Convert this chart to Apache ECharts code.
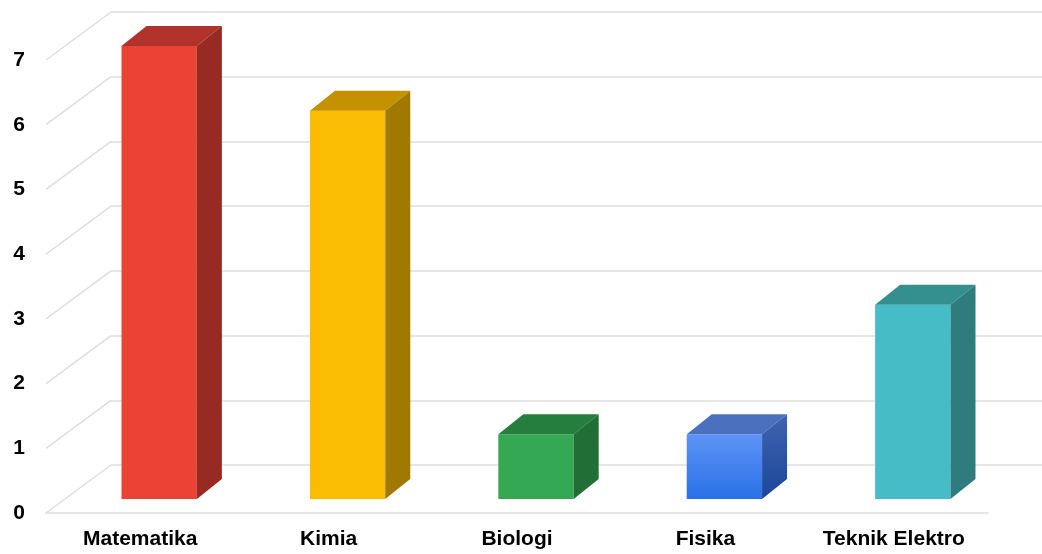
<!DOCTYPE html>
<html>
<head>
<meta charset="utf-8">
<script src="https://cdn.jsdelivr.net/npm/echarts@6/dist/echarts.min.js"></script>
<style>
  html, body { margin: 0; padding: 0; background: #fff; }
  #chart { width: 1042px; height: 554px; }
</style>
</head>
<body>
<div id="chart"></div>
<script>
// data
const categories = ['Matematika', 'Kimia', 'Biologi', 'Fisika', 'Teknik Elektro'];
const counts = [7, 6, 1, 1, 3];
const yTicks = [0, 1, 2, 3, 4, 5, 6, 7];

// face colours per bar: front, top, side
const frontColors = ['#EA4335', '#FBBC04', '#34A853',
    {type: 'linear', x: 0, y: 0, x2: 0, y2: 1, colorStops: [{offset: 0, color: '#5E94F8'}, {offset: 1, color: '#2A70E6'}]},
    '#46BDC6'];
const topColors = ['#B0322A', '#C49200', '#257E3E', '#4A70BE', '#33908F'];
const sideColors = ['#972A23', '#A07A00', '#216E36',
    {type: 'linear', x: 0, y: 0, x2: 0, y2: 1, colorStops: [{offset: 0, color: '#3F63AE'}, {offset: 1, color: '#1C469A'}]},
    '#2E7C7D'];

// oblique projection offsets (px)
const wallDx = 65, wallDy = -48;   // front floor edge -> back wall
const barDx = 19, barDy = -14;     // front floor edge -> bar front face
const depthDx = 25, depthDy = -20; // bar depth

const gridColor = '#dedede';
const font = '"Liberation Sans", Arial, sans-serif';

const chart = echarts.init(document.getElementById('chart'));

function renderBar(params, api) {
    const idx = params.dataIndex;
    const c = api.value(0), v = api.value(1);
    const base = api.coord([c, 0]);
    const top = api.coord([c, v]);
    const w = api.size([1, 0])[0] * 0.4;
    const x0 = base[0] - w / 2 + barDx, x1 = x0 + w;
    const by = base[1] + barDy, ty = top[1] + barDy;
    return {
        type: 'group',
        children: [
            {type: 'rect', shape: {x: x0, y: ty, width: w, height: by - ty},
             style: {fill: frontColors[idx]}},
            {type: 'polygon', shape: {points: [[x0, ty], [x1, ty], [x1 + depthDx, ty + depthDy], [x0 + depthDx, ty + depthDy]]},
             style: {fill: topColors[idx]}},
            {type: 'polygon', shape: {points: [[x1, ty], [x1 + depthDx, ty + depthDy], [x1 + depthDx, by + depthDy], [x1, by]]},
             style: {fill: sideColors[idx]}}
        ]
    };
}

function renderDiag(params, api) {
    const y = api.coord([0, api.value(0)])[1];
    const x = params.coordSys.x;
    return {
        type: 'line',
        shape: {x1: x, y1: y, x2: x + wallDx, y2: y + wallDy},
        style: {stroke: gridColor, lineWidth: 1.5}
    };
}

chart.setOption({
    animation: false,
    grid: [
        // front floor plane
        {left: 46, right: 54, top: 60, bottom: 41},
        // back wall plane
        {left: 46 + wallDx, right: 0, top: 60 + wallDy, bottom: 41 - wallDy}
    ],
    xAxis: [
        {
            type: 'category', gridIndex: 0, data: categories,
            axisLine: {show: true, lineStyle: {color: gridColor, width: 1.5}},
            axisTick: {show: false},
            axisLabel: {color: '#000', fontWeight: 'bold', fontSize: 21, fontFamily: font, margin: 16}
        },
        {type: 'value', gridIndex: 1, show: false, min: 0, max: 1}
    ],
    yAxis: [
        {
            type: 'value', gridIndex: 0, min: 0, max: 7, interval: 1,
            axisLine: {show: false}, axisTick: {show: false}, splitLine: {show: false},
            axisLabel: {color: '#000', fontWeight: 'bold', fontSize: 21, fontFamily: font, margin: 21}
        },
        {
            type: 'value', gridIndex: 1, min: 0, max: 7, interval: 1,
            axisLine: {show: false}, axisTick: {show: false}, axisLabel: {show: false},
            splitLine: {show: true, lineStyle: {color: gridColor, width: 1.5}}
        }
    ],
    series: [
        {
            type: 'custom', xAxisIndex: 0, yAxisIndex: 0, z: 1,
            renderItem: renderDiag,
            data: yTicks.map(t => [t]),
            encode: {y: 0}
        },
        {
            type: 'custom', xAxisIndex: 0, yAxisIndex: 0, z: 5,
            renderItem: renderBar,
            data: counts.map((v, i) => [i, v]),
            encode: {x: 0, y: 1}
        }
    ]
});
</script>
</body>
</html>
